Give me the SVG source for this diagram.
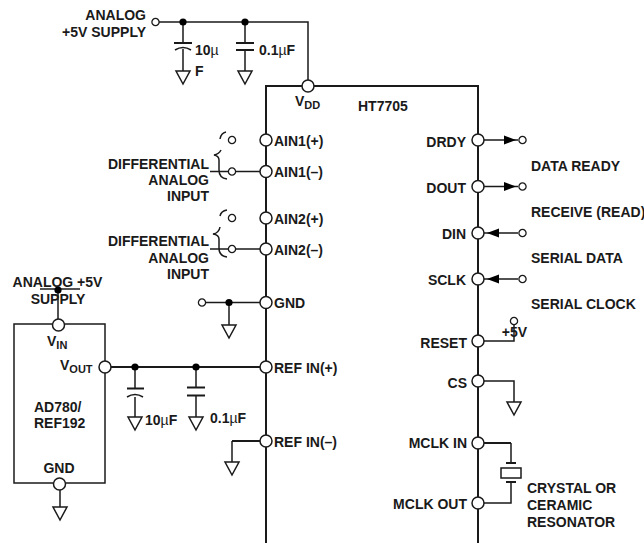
<svg xmlns="http://www.w3.org/2000/svg" width="644" height="543" viewBox="0 0 644 543">
<style>
text{font-family:"Liberation Sans",Arial,sans-serif;font-size:14px;font-weight:700;fill:#1a1a1a}
.e{text-anchor:end}.m{text-anchor:middle}
.n{font-weight:400}
.s{font-size:11px}
.w{fill:none;stroke:#1a1a1a;stroke-width:1.5}
.b{fill:none;stroke:#1a1a1a;stroke-width:2}
.t{fill:#fff;stroke:#1a1a1a;stroke-width:1.5}
.p{fill:#fff;stroke:#1a1a1a;stroke-width:1.5}
.o{fill:#fff;stroke:#1a1a1a;stroke-width:1.3}
.d{fill:#000}
</style>
<defs>
<path id="g" class="t" d="M-7 0H7L0 13Z"/>
<circle id="pin" class="p" r="6"/>
<circle id="o" class="o" r="3.6"/>
<circle id="j" class="d" r="3.6"/>
<path id="ar" class="d" d="M0 -4.500L12 0L0 4.500Z"/>
</defs>
<g id="connectors">
<path class="w" d="M159 22H308V80M183 22V43M183 49V71M245 22V43M245 50V71"/>
<path class="b" d="M174 43H192M236 43H254M236 50H254"/>
<path class="w" d="M175 50Q183 45 191 50"/>
<path class="w" d="M210 171.500H260M210 249H260"/>
<path class="w" d="M206 302.500H260M229 302.500V325"/>
<path class="b" d="M111 367H260"/>
<path class="w" d="M135 367V388M135 397V417M196 367V388M196 396V417"/>
<path class="b" d="M127 388.500H144M187 387.500H205M187 395.500H205"/>
<path class="w" d="M127 397Q135 392 143 397"/>
<path class="b" d="M260 441H232"/><path class="w" d="M232 441V462"/>
<path class="w" d="M58 290V319M60 490V507"/>
<path class="w" d="M40 289H80"/>
<path class="w" d="M484 140H518M484 186.500H518M484 233H518M484 279H518"/>
<path class="w" d="M484 341H514V325"/>
<path class="w" d="M484 381H514V402"/>
<path class="b" d="M484 443H511"/><path class="w" d="M511 443V463M511 482V503H484"/>
<path class="b" d="M506 463H516M506 482H516"/>
<rect class="w" x="501" y="468" width="20" height="10"/>
<path class="w" d="M226 132Q221 133 220 139M221 150Q219 154 214 155Q219 156 219 160V170Q219 178 227 179"/>
<path class="w" d="M227 210Q221 211 220 216M220 227Q219 233 213 234Q219 235 219 239V248Q219 256 227 257"/>
<use href="#ar" transform="translate(504 140)"/>
<use href="#ar" transform="translate(504 186.500)"/>
<use href="#ar" transform="translate(499 233) scale(-1 1)"/>
<use href="#ar" transform="translate(499 279) scale(-1 1)"/>
</g>
<g id="ht7705">
<path class="b" d="M266 543V86H478V543"/>
<use href="#pin" x="308" y="86"/>
<text x="295" y="106">V<tspan class="s" dy="3">DD</tspan></text>
<text x="358" y="111">HT7705</text>
<use href="#pin" x="266" y="140"/><text x="274" y="145.500">AIN1(+)</text>
<use href="#pin" x="266" y="171.500"/><text x="274" y="177">AIN1(–)</text>
<use href="#pin" x="266" y="218"/><text x="274" y="223.500">AIN2(+)</text>
<use href="#pin" x="266" y="249"/><text x="274" y="254.500">AIN2(–)</text>
<use href="#pin" x="266" y="302.500"/><text x="274" y="308">GND</text>
<use href="#pin" x="266" y="367"/><text x="274" y="372.500">REF IN(+)</text>
<use href="#pin" x="266" y="441"/><text x="274" y="446.500">REF IN(–)</text>
<use href="#pin" x="478" y="140"/><text class="e" x="466" y="146.500">DRDY</text>
<use href="#pin" x="478" y="186.500"/><text class="e" x="466" y="193">DOUT</text>
<use href="#pin" x="478" y="233"/><text class="e" x="466" y="239">DIN</text>
<use href="#pin" x="478" y="279"/><text class="e" x="466" y="285">SCLK</text>
<use href="#pin" x="478" y="341"/><text class="e" x="467" y="347.500">RESET</text>
<use href="#pin" x="478" y="381"/><text class="e" x="467" y="388">CS</text>
<use href="#pin" x="478" y="443"/><text class="e" x="467" y="448">MCLK IN</text>
<use href="#pin" x="478" y="503"/><text class="e" x="467" y="509">MCLK OUT</text>
</g>
<g id="ad780">
<rect class="w" x="14" y="324" width="91" height="159"/>
<use href="#pin" x="58.500" y="325"/>
<use href="#pin" x="105" y="367"/>
<use href="#pin" x="59.500" y="484"/>
<text x="47" y="346">V<tspan class="s" dy="3">IN</tspan></text>
<text x="60" y="370">V<tspan class="s" dy="3">OUT</tspan></text>
<text x="34" y="412">AD780/</text>
<text x="34" y="428">REF192</text>
<text class="m" x="59" y="473">GND</text>
</g>
<g id="supply-top">
<use href="#o" x="155.500" y="22"/>
<text class="e" x="146" y="20">ANALOG</text>
<text class="e" x="146" y="37">+5V SUPPLY</text>
</g>
<g id="cap-10u-top">
<use href="#j" x="183" y="22"/>
<use href="#g" x="183" y="71"/>
<text x="195" y="55">10<tspan class="n">µ</tspan></text>
<text x="195" y="76">F</text>
</g>
<g id="cap-01u-top">
<use href="#j" x="245" y="22"/>
<use href="#g" x="245" y="71"/>
<text x="259" y="55">0.1<tspan class="n">µ</tspan>F</text>
</g>
<g id="diff-1">
<use href="#o" x="232" y="140"/>
<use href="#o" x="232" y="171.500"/>
<text class="e" x="209" y="169">DIFFERENTIAL</text>
<text class="e" x="209" y="185">ANALOG</text>
<text class="e" x="209" y="201">INPUT</text>
</g>
<g id="diff-2">
<use href="#o" x="232" y="218"/>
<use href="#o" x="232" y="249"/>
<text class="e" x="209" y="246">DIFFERENTIAL</text>
<text class="e" x="209" y="263">ANALOG</text>
<text class="e" x="209" y="279">INPUT</text>
</g>
<g id="gnd-in">
<use href="#o" x="202" y="302.500"/>
<use href="#j" x="229" y="302.500"/>
<use href="#g" x="229" y="325"/>
</g>
<g id="supply-ref">
<use href="#j" x="58" y="290"/>
<text class="m" x="57.500" y="287">ANALOG +5V</text>
<text class="m" x="58" y="304">SUPPLY</text>
</g>
<g id="cap-10u-ref">
<use href="#j" x="135" y="367"/>
<use href="#g" x="135" y="417"/>
<text x="145" y="425">10<tspan class="n">µ</tspan>F</text>
</g>
<g id="cap-01u-ref">
<use href="#j" x="196" y="367"/>
<use href="#g" x="196" y="417"/>
<text x="210" y="423">0.1<tspan class="n">µ</tspan>F</text>
</g>
<g id="gnd-ref"><use href="#g" x="232" y="462"/></g>
<g id="gnd-ad780"><use href="#g" x="60" y="507"/></g>
<g id="data-ready"><use href="#o" x="522.500" y="140"/><text x="531" y="171">DATA READY</text></g>
<g id="receive"><use href="#o" x="522.500" y="186.500"/><text x="531" y="217">RECEIVE (READ)</text></g>
<g id="serial-data"><use href="#o" x="522.500" y="233"/><text x="531" y="263">SERIAL DATA</text></g>
<g id="serial-clock"><use href="#o" x="522.500" y="279"/><text x="531" y="309">SERIAL CLOCK</text></g>
<g id="plus5"><use href="#o" x="514" y="321"/><text class="m" x="514.500" y="337">+5V</text></g>
<g id="gnd-cs"><use href="#g" x="514" y="402"/></g>
<g id="crystal-label">
<text x="527" y="493">CRYSTAL OR</text>
<text x="527" y="510">CERAMIC</text>
<text x="527" y="527">RESONATOR</text>
</g>
</svg>
